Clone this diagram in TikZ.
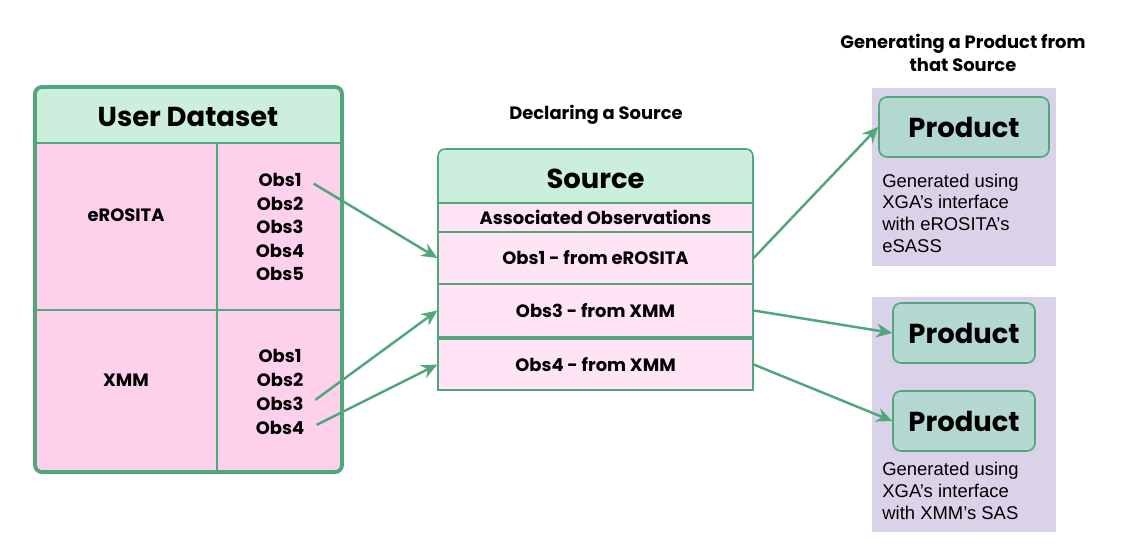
\documentclass[tikz,border=0pt]{standalone}
\usepackage{fontspec}
\setmainfont{Poppins}
\newfontfamily\descfont{Liberation Sans}
\usetikzlibrary{arrows.meta,positioning}
\definecolor{xga-green}{HTML}{52A67B}
\definecolor{xga-head}{HTML}{CCEEDC}
\definecolor{xga-pink}{HTML}{FDD0EC}
\definecolor{xga-rose}{HTML}{FFE4F5}
\definecolor{xga-teal}{HTML}{B3D8D0}
\definecolor{xga-lilac}{HTML}{D9D2E9}
\tikzset{
  headtext/.style={font=\bfseries\fontsize{15.6}{18}\selectfont},
  obstext/.style={font=\bfseries\fontsize{10.2}{13.4}\selectfont, align=center},
  obsrow/.style={draw=xga-green, line width=0.8pt, fill=xga-rose, minimum width=6.3cm, inner sep=0pt, obstext},
  srchead/.style={draw=xga-green, line width=0.9pt, fill=xga-head, rounded corners=0.14cm, minimum width=6.3cm, minimum height=1.2cm, headtext},
  product/.style={draw=xga-green, line width=0.9pt, fill=xga-teal, rounded corners=0.16cm, minimum height=1.2cm, headtext},
  desc/.style={font=\descfont\fontsize{10.5}{12.3}\selectfont, align=left, anchor=west, inner sep=0pt},
  link/.style={xga-green, line width=1.4pt, -{Stealth[length=9pt,width=8pt]}}
}

\begin{document}
\begin{tikzpicture}[x=0.02cm, y=-0.02cm]
\useasboundingbox (0,0) rectangle (1129,553);
% user dataset table
\begin{scope}
\clip[rounded corners=0.14cm] (35,87) rectangle (342,472);
\fill[xga-pink] (35,87) rectangle (342,472);
\fill[xga-head] (35,87) rectangle (342,143);
\end{scope}
\draw[xga-green, line width=1.2pt] (35,143) -- (342,143);
\draw[xga-green, line width=1pt] (35,310) -- (342,310);
\draw[xga-green, line width=0.6pt] (217,143) -- (217,472);
\draw[xga-green, line width=2.2pt, rounded corners=0.14cm] (35,87) rectangle (342,472);
\node[headtext] (dataset) at (188,117) {User Dataset};
\node[obstext] (erosita) at (126,215) {eROSITA};
\node[obstext] (xmm) at (126,380) {XMM};
\foreach \i in {1,...,5}
  \node[obstext] (eobs\i) at (280,156.5+23.5*\i) {Obs\i};
\foreach \i in {1,...,4}
  \node[obstext] (xobs\i) at (280,332+24*\i) {Obs\i};

% source
\node[obstext] (declare) at (596,115) {Declaring a Source};
\node[srchead] (source) at (595.5,179) {Source};
\node[obsrow, minimum height=0.58cm] (assoc) at (595.5,217.5) {Associated Observations};
\node[obsrow, minimum height=1.04cm] (srcobs1) at (595.5,258) {Obs1 - from eROSITA};
\node[obsrow, minimum height=1.06cm] (srcobs3) at (595.5,310.5) {Obs3 - from XMM};
\node[obsrow, minimum height=1.02cm] (srcobs4) at (595.5,364.5) {Obs4 - from XMM};

% products
\node[obstext] (generate) at (963,53) {Generating a Product from\\that Source};
\fill[xga-lilac] (872,88) rectangle (1056,266);
\fill[xga-lilac] (872,297) rectangle (1056,532);
\node[product, minimum width=3.4cm] (prod1) at (964,127) {Product};
\node[product, minimum width=2.84cm] (prod2) at (964,333) {Product};
\node[product, minimum width=2.84cm] (prod3) at (964,421) {Product};
\node[desc] (desc1) at (882,213) {Generated using\\XGA’s interface\\with eROSITA’s\\eSASS};
\node[desc] (desc2) at (882,491) {Generated using\\XGA’s interface\\with XMM’s SAS};

\draw[link, shorten <=4pt] (eobs1.east) -- (srcobs1.west);
\draw[link, shorten <=4pt] (xobs3.east) -- (srcobs3.west);
\draw[link, shorten <=4pt] (xobs4.east) -- (srcobs4.west);
\draw[link] (srcobs1.east) -- (prod1.west);
\draw[link] (srcobs3.east) -- (prod2.west);
\draw[link] (srcobs4.east) -- (prod3.west);
\end{tikzpicture}
\end{document}
